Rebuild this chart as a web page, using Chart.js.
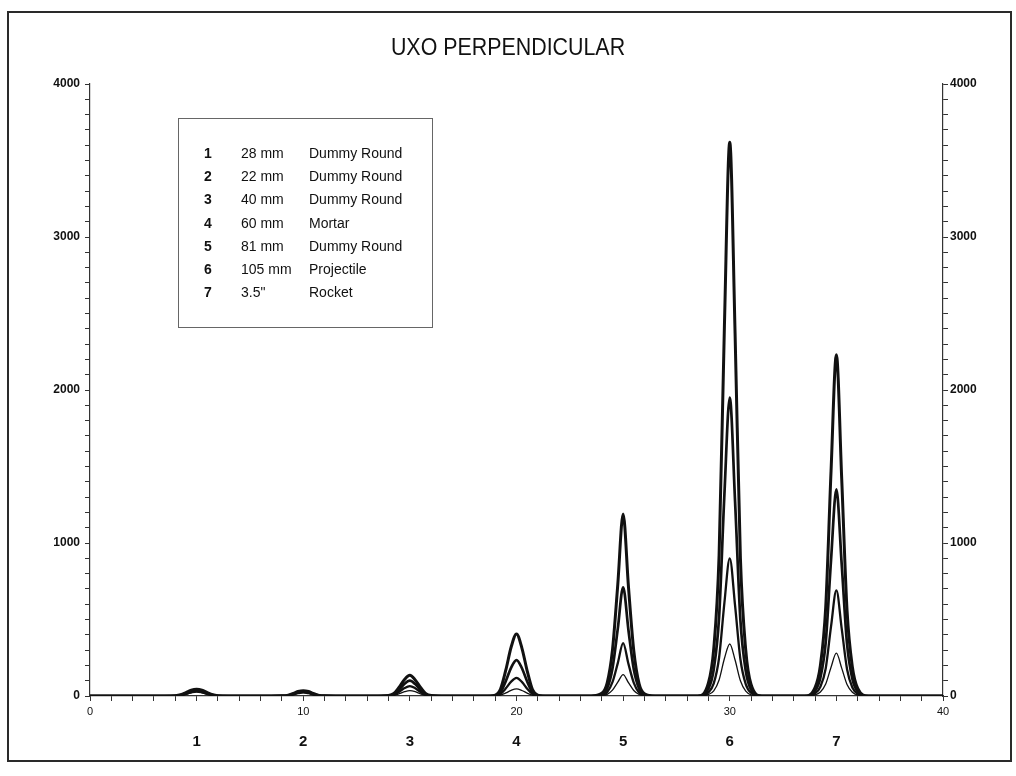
<!DOCTYPE html>
<html>
<head>
<meta charset="utf-8">
<script src="https://cdn.jsdelivr.net/npm/chart.js@4"></script>
<style>
  html, body { margin: 0; padding: 0; background: #fff; }
  #wrap { position: relative; width: 1016px; height: 776px; overflow: hidden; background: #fff; }
  #frame { position: absolute; left: 7px; top: 11px; width: 1001px; height: 747px; border: 2px solid #2a2a2a; }
  #title { position: absolute; left: 0; top: 34px; width: 1016px; text-align: center;
           font-family: "Liberation Sans", Arial, sans-serif;
           font-size: 23px; line-height: 26px; color: #111; transform: scaleX(0.93); transform-origin: 508px 0; }
  #key { position: absolute; left: 178px; top: 118px; width: 255px; height: 210px; box-sizing: border-box;
         border: 1.5px solid #666; font-family: "Liberation Sans", Arial, sans-serif; font-size: 14px; color: #111; }
  #key .c { position: absolute; line-height: 18px; white-space: nowrap; }
  #key .n { font-weight: bold; }
  canvas { position: absolute; left: 0; top: 0; }
</style>
</head>
<body>
<div id="wrap">
  <div id="frame"></div>
  <canvas id="c" width="1016" height="776"></canvas>
  <div id="title">UXO PERPENDICULAR</div>
  <div id="key"></div>
</div>
<script>
// ---- Data ----
const chartTitle = "UXO PERPENDICULAR";

const keyNumbers = ["1", "2", "3", "4", "5", "6", "7"];
const keySizes   = ["28 mm", "22 mm", "40 mm", "60 mm", "81 mm", "105 mm", "3.5\""];
const keyTypes   = ["Dummy Round", "Dummy Round", "Dummy Round", "Mortar", "Dummy Round", "Projectile", "Rocket"];

const peakPositions = [5, 10, 15, 20, 25, 30, 35];
const peakLabels    = ["1", "2", "3", "4", "5", "6", "7"];

const xTickLabels = ["0", "10", "20", "30", "40"];
const yTickLabels = ["0", "1000", "2000", "3000", "4000"];

// sample positions along the x axis
const xs = [0,
  3.5, 4, 4.25, 4.5, 4.75, 5, 5.25, 5.5, 5.75, 6, 6.5,
  8.5, 9, 9.25, 9.5, 9.75, 10, 10.25, 10.5, 10.75, 11, 11.5,
  13.5, 14, 14.25, 14.5, 14.75, 15, 15.25, 15.5, 15.75, 16, 16.5,
  18.5, 19, 19.25, 19.5, 19.75, 20, 20.25, 20.5, 20.75, 21, 21.5,
  23.5, 24, 24.25, 24.5, 24.75, 25, 25.25, 25.5, 25.75, 26, 26.5,
  28.5, 29, 29.25, 29.5, 29.75, 30, 30.25, 30.5, 30.75, 31, 31.5,
  33.5, 34, 34.25, 34.5, 34.75, 35, 35.25, 35.5, 35.75, 36, 36.5,
  40];

// four nested response curves (largest to smallest)
const series1 = [0,
  0, 2, 8, 22, 38, 44, 38, 22, 8, 2, 0,
  0, 1, 4, 15, 29, 35, 29, 15, 4, 1, 0,
  0, 3, 16, 58, 108, 135, 105, 56, 15, 3, 0,
  0, 6, 45, 170, 320, 405, 315, 165, 42, 6, 0,
  0, 18, 85, 300, 730, 1190, 715, 295, 80, 15, 0,
  0, 85, 310, 920, 2420, 3620, 2370, 900, 300, 75, 0,
  0, 55, 200, 580, 1470, 2230, 1420, 560, 190, 50, 0,
  0];
const series2 = [0,
  0, 1, 6, 18, 32, 38, 32, 18, 6, 1, 0,
  0, 1, 3, 12, 25, 30, 25, 12, 3, 1, 0,
  0, 2, 11, 42, 80, 100, 78, 40, 10, 2, 0,
  0, 3, 26, 98, 186, 235, 183, 95, 25, 3, 0,
  0, 10, 50, 180, 440, 710, 430, 175, 48, 9, 0,
  0, 48, 175, 515, 1320, 1950, 1270, 495, 165, 42, 0,
  0, 34, 120, 350, 890, 1350, 860, 340, 112, 30, 0,
  0];
const series3 = [0,
  0, 1, 4, 14, 26, 32, 26, 14, 4, 1, 0,
  0, 0, 2, 9, 20, 25, 20, 9, 2, 0, 0,
  0, 1, 8, 27, 52, 65, 51, 26, 7, 1, 0,
  0, 2, 14, 50, 94, 118, 92, 48, 13, 2, 0,
  0, 5, 24, 90, 215, 345, 210, 86, 22, 4, 0,
  0, 24, 82, 250, 610, 900, 590, 240, 78, 20, 0,
  0, 17, 60, 180, 455, 690, 440, 175, 56, 15, 0,
  0];
const series4 = [0,
  0, 0, 3, 10, 20, 26, 20, 10, 3, 0, 0,
  0, 0, 1, 7, 15, 20, 15, 7, 1, 0, 0,
  0, 0, 4, 15, 28, 35, 28, 14, 4, 0, 0,
  0, 1, 6, 20, 37, 46, 36, 19, 5, 1, 0,
  0, 3, 11, 38, 90, 140, 87, 36, 10, 2, 0,
  0, 10, 34, 105, 245, 340, 235, 100, 32, 8, 0,
  0, 7, 26, 78, 188, 280, 182, 75, 24, 6, 0,
  0];

// ---- Build page ----
document.getElementById('title').textContent = chartTitle;
const key = document.getElementById('key');
keyNumbers.forEach((n, i) => {
  const top = 25 + i * 23.2;
  const a = document.createElement('div'); a.className = 'c n'; a.style.left = '25px'; a.style.top = top + 'px'; a.textContent = n;
  const b = document.createElement('div'); b.className = 'c'; b.style.left = '62px'; b.style.top = top + 'px'; b.textContent = keySizes[i];
  const c = document.createElement('div'); c.className = 'c'; c.style.left = '130px'; c.style.top = top + 'px'; c.textContent = keyTypes[i];
  key.appendChild(a); key.appendChild(b); key.appendChild(c);
});

const seriesList = [series1, series2, series3, series4];
const widths = [3.0, 2.7, 2.3, 1.3];

const ctx = document.getElementById('c').getContext('2d');
new Chart(ctx, {
  type: 'line',
  data: {
    datasets: seriesList.map((s, i) => ({
      label: 'Curve ' + (i + 1),
      data: xs.map((x, j) => ({ x: x, y: s[j] })),
      borderColor: '#111',
      borderWidth: widths[i],
      pointRadius: 0,
      fill: false,
      cubicInterpolationMode: 'monotone',
      xAxisID: 'x',
      yAxisID: 'y'
    }))
  },
  options: {
    responsive: false,
    animation: false,
    layout: { padding: { left: 0, right: 0, top: 84, bottom: 18 } },
    plugins: { legend: { display: false }, tooltip: { enabled: false }, title: { display: false } },
    scales: {
      x: {
        type: 'linear', position: 'bottom', min: 0, max: 40, weight: 0,
        ticks: {
          stepSize: 1, autoSkip: false, maxRotation: 0, color: '#111', padding: 4,
          font: { family: 'Liberation Sans', size: 11 },
          callback: v => (v % 10 === 0 ? xTickLabels[v / 10] : '')
        },
        grid: { drawOnChartArea: false, tickLength: 5, color: '#333' },
        border: { color: '#333', width: 1.2 },
        afterFit: s => { s.height = 22; }
      },
      x2: {
        type: 'linear', position: 'bottom', min: 0, max: 40, weight: 1,
        afterBuildTicks: s => { s.ticks = peakPositions.map(v => ({ value: v })); },
        ticks: {
          autoSkip: false, maxRotation: 0, color: '#111', padding: 7,
          font: { family: 'Liberation Sans', size: 15, weight: 'bold' },
          callback: v => peakLabels[peakPositions.indexOf(v)]
        },
        grid: { display: false },
        border: { display: false },
        afterFit: s => { s.height = 40; }
      },
      y: {
        type: 'linear', position: 'left', min: 0, max: 4000,
        ticks: {
          stepSize: 100, autoSkip: false, color: '#111', padding: 5,
          font: { family: 'Liberation Sans', size: 12, weight: 'bold' },
          callback: v => (v % 1000 === 0 ? yTickLabels[v / 1000] : '')
        },
        grid: { drawOnChartArea: false, tickLength: 5, color: '#333' },
        border: { color: '#333', width: 1.2 },
        afterFit: s => { s.width = 90; }
      },
      y2: {
        type: 'linear', position: 'right', min: 0, max: 4000,
        ticks: {
          stepSize: 100, autoSkip: false, color: '#111', padding: 2,
          font: { family: 'Liberation Sans', size: 12, weight: 'bold' },
          callback: v => (v % 1000 === 0 ? yTickLabels[v / 1000] : '')
        },
        grid: { drawOnChartArea: false, tickLength: 5, color: '#333' },
        border: { color: '#333', width: 1.2 },
        afterFit: s => { s.width = 73; }
      }
    }
  }
});
</script>
</body>
</html>
